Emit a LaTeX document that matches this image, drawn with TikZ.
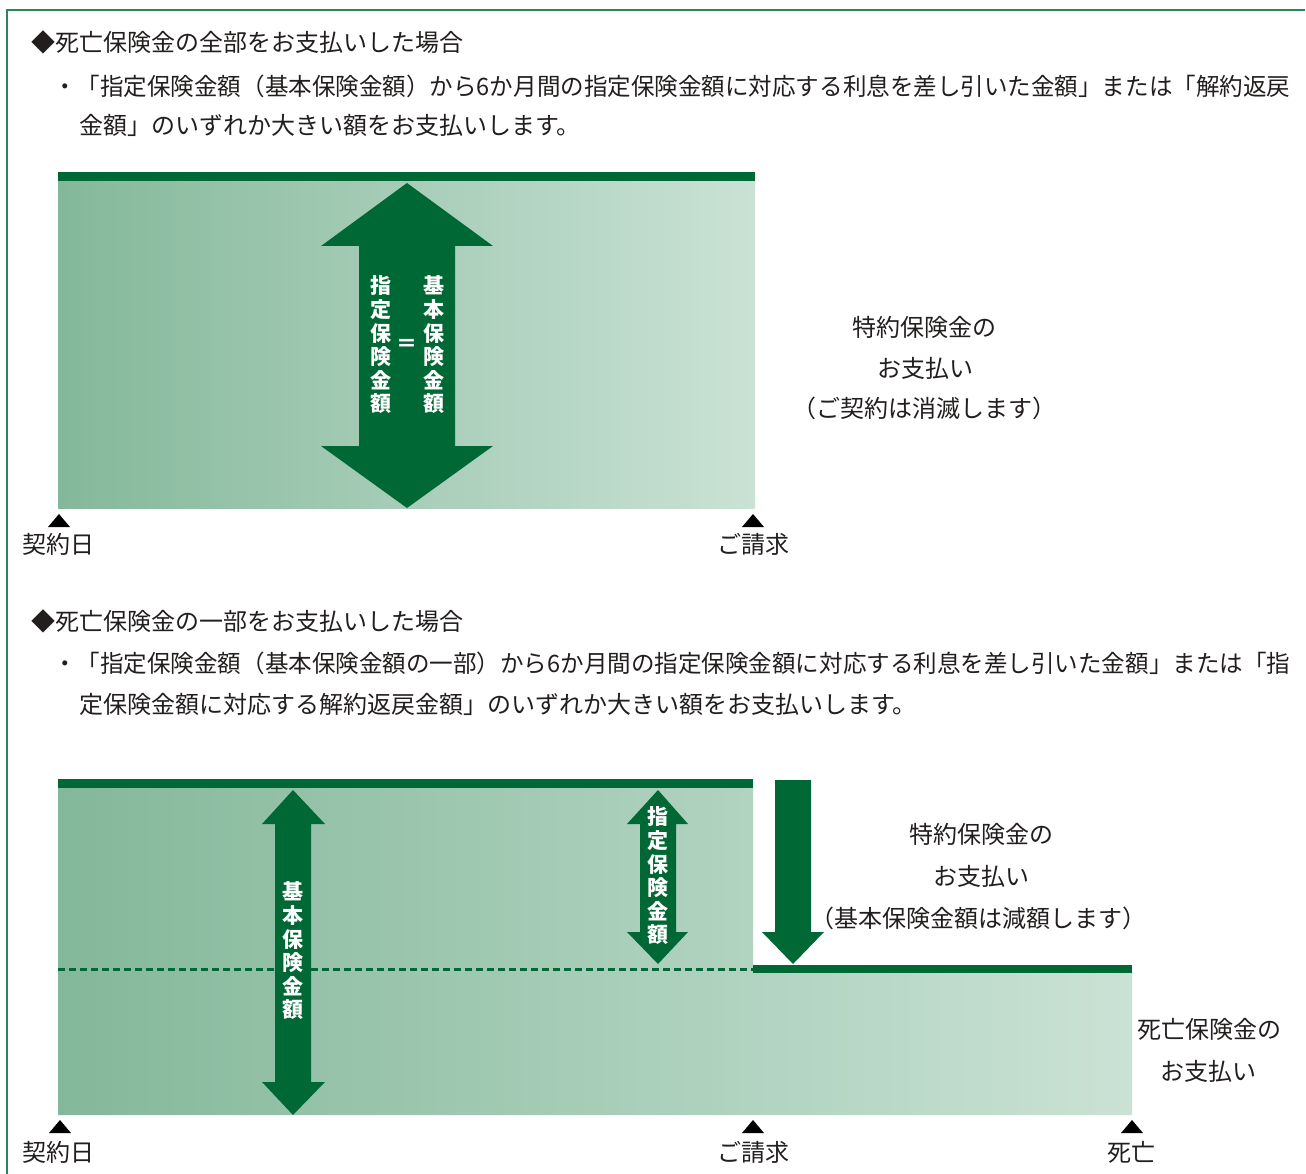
\documentclass[tikz,border=0pt]{standalone}
\usepackage{fontspec}
\setmainfont{Noto Sans CJK JP}
\usepackage{graphicx}
\definecolor{dg}{RGB}{0,104,52}
\definecolor{frm}{RGB}{45,135,85}
\definecolor{gL}{RGB}{132,184,154}
\definecolor{gR}{RGB}{202,226,213}
\definecolor{ink}{RGB}{35,30,30}
\begin{document}
\begin{tikzpicture}[x=1pt,y=-1pt,
  txt/.style={inner sep=0pt, text=ink, font=\fontsize{24}{28}\selectfont},
  vt/.style={inner sep=0pt, text=white, align=center, font=\fontsize{21}{23.6}\selectfont\bfseries},
  arr/.style={fill=dg, draw=none},
  bar/.style={fill=dg, draw=none},
  tri/.style={fill=black, draw=none},
  frame/.style={draw=frm, line width=2pt},
  dashline/.style={draw=dg, line width=3pt, dash pattern=on 7pt off 4pt}]
\useasboundingbox (0,0) rectangle (1306,1174);
% frame
\draw[frame] (7,1174) -- (7,10) -- (1305,10);

% ---------- Section 1 ----------
\node[txt, anchor=west] (t1) at (31,42) {◆死亡保険金の全部をお支払いした場合};
\node[txt, anchor=west] (t2) at (53,86) {\resizebox{1237pt}{\height}{・「指定保険金額（基本保険金額）から6か月間の指定保険金額に対応する利息を差し引いた金額」または「解約返戻}};
\node[txt, anchor=west] (t3) at (79,125) {金額」のいずれか大きい額をお支払いします。};

\shade[left color=gL, right color=gR] (58,175) rectangle (755,508);
\fill[bar] (58,172) rectangle (755,181);
\fill[arr] (407,183) -- (493,246) -- (455,246) -- (455,446) -- (493,446) -- (407,508)
  -- (321,446) -- (359,446) -- (359,246) -- (321,246) -- cycle;
\node[vt] (v1) at (381,345) {指\\定\\保\\険\\金\\額};
\node[vt] (v2) at (434,345) {基\\本\\保\\険\\金\\額};
\node[vt] (eq) at (407,345) {＝};

\node[txt] (r1a) at (924,327) {特約保険金の};
\node[txt] (r1b) at (925,368) {お支払い};
\node[txt] (r1c) at (924,408) {（ご契約は消滅します）};

\fill[tri] (48,527) -- (70,527) -- (59,514) -- cycle;
\fill[tri] (742,527) -- (764,527) -- (753,514) -- cycle;
\node[txt] (d1) at (58,544) {契約日};
\node[txt] (c1) at (753,544) {ご請求};

% ---------- Section 2 ----------
\node[txt, anchor=west] (t4) at (31,621) {◆死亡保険金の一部をお支払いした場合};
\node[txt, anchor=west] (t5) at (53,663) {\resizebox{1237pt}{\height}{・「指定保険金額（基本保険金額の一部）から6か月間の指定保険金額に対応する利息を差し引いた金額」または「指}};
\node[txt, anchor=west] (t6) at (79,704) {定保険金額に対応する解約返戻金額」のいずれか大きい額をお支払いします。};

\shade[left color=gL, right color=gR] (58,783) -- (753,783) -- (753,968) -- (1132,968)
  -- (1132,1115) -- (58,1115) -- cycle;
\fill[bar] (58,779) rectangle (753,788);
\fill[bar] (753,965) rectangle (1132,973);
\draw[dashline] (58,969) -- (753,969);

% big double arrow
\fill[arr] (293,790) -- (325,824) -- (311,824) -- (311,1082) -- (325,1082) -- (293,1115)
  -- (262,1082) -- (275,1082) -- (275,824) -- (262,824) -- cycle;
\node[vt] (v3) at (293,951) {基\\本\\保\\険\\金\\額};
% small double arrow
\fill[arr] (658,790) -- (688,824) -- (676,824) -- (676,932) -- (688,932) -- (658,964)
  -- (627,932) -- (640,932) -- (640,824) -- (627,824) -- cycle;
\node[vt] (v4) at (658,876) {指\\定\\保\\険\\金\\額};
% down arrow
\fill[arr] (775,780) -- (811,780) -- (811,932) -- (824,932) -- (793,964) -- (762,932)
  -- (775,932) -- cycle;

\node[txt] (r2a) at (981,834) {特約保険金の};
\node[txt] (r2b) at (981,876) {お支払い};
\node[txt] (r2c) at (978,918) {（基本保険金額は減額します）};
\node[txt] (r3a) at (1209,1029) {死亡保険金の};
\node[txt] (r3b) at (1208,1071) {お支払い};

\fill[tri] (49,1133) -- (71,1133) -- (60,1120) -- cycle;
\fill[tri] (742,1133) -- (764,1133) -- (753,1120) -- cycle;
\fill[tri] (1121,1133) -- (1143,1133) -- (1132,1120) -- cycle;
\node[txt] (d2) at (58,1152) {契約日};
\node[txt] (c2) at (753,1152) {ご請求};
\node[txt] (x2) at (1131,1152) {死亡};
\end{tikzpicture}
\end{document}
